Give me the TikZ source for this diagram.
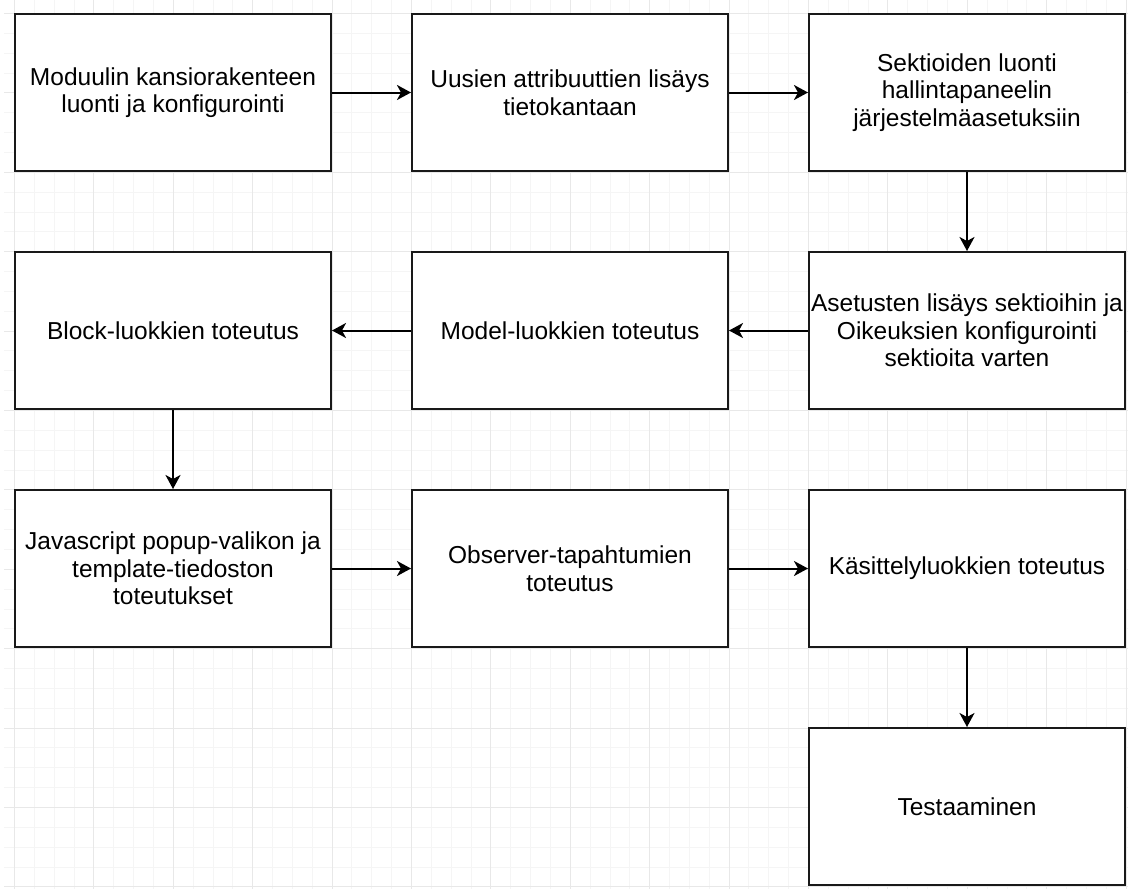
\documentclass[tikz,border=0pt]{standalone}
\usepackage{fontspec}
\setmainfont{Liberation Sans}
\usetikzlibrary{arrows.meta}
\begin{document}
\begin{tikzpicture}[x=1pt,y=-1pt,
  minorgrid/.style={draw=black!4, line width=1pt},
  majorgrid/.style={draw=black!9, line width=1pt},
  box/.style={draw=black!90, line width=2pt, fill=white, minimum width=316pt, minimum height=157pt, align=center, inner sep=0pt, font=\fontsize{24.5}{27.5}\selectfont},
  flow/.style={draw=black, line width=2pt, -{Stealth[length=14pt,width=15pt,inset=4pt]}}]
\useasboundingbox (0,0) rectangle (1128,889);
\fill[white] (0,0) rectangle (1128,889);
% grid (pixel aligned)
\foreach \k in {0,...,56} { \pgfmathsetmacro\gx{round(14+19.85*\k)+0.5} \draw[minorgrid] (\gx,0) -- (\gx,889); }
\foreach \k in {-1,...,44} { \pgfmathsetmacro\gy{round(13+19.85*\k)+0.5} \draw[minorgrid] (4,\gy) -- (1128,\gy); }
\foreach \k in {0,...,14} { \pgfmathsetmacro\gx{round(14+79.4*\k)+0.5} \draw[majorgrid] (\gx,0) -- (\gx,889); }
\foreach \k in {0,...,11} { \pgfmathsetmacro\gy{round(13+79.4*\k)+0.5} \draw[majorgrid] (4,\gy) -- (1128,\gy); }
% boxes
\node[box] (b1) at (173,92.5) {Moduulin kansiorakenteen\\luonti ja konfigurointi};
\node[box] (b2) at (570,92.5) {Uusien attribuuttien lisäys\\tietokantaan};
\node[box] (b3) at (967,92.5) {Sektioiden luonti\\hallintapaneelin\\järjestelmäasetuksiin};
\node[box] (b6) at (967,330.5) {Asetusten lisäys sektioihin ja\\Oikeuksien konfigurointi\\sektioita varten};
\node[box] (b5) at (570,330.5) {Model-luokkien toteutus};
\node[box] (b4) at (173,330.5) {Block-luokkien toteutus};
\node[box] (b7) at (173,568.5) {Javascript popup-valikon ja\\template-tiedoston\\toteutukset};
\node[box] (b8) at (570,568.5) {Observer-tapahtumien\\toteutus};
\node[box] (b9) at (967,568.5) {Käsittelyluokkien toteutus};
\node[box] (b10) at (967,806.5) {Testaaminen};
% connectors
\draw[flow] (b1) -- (b2);
\draw[flow] (b2) -- (b3);
\draw[flow] (b3) -- (b6);
\draw[flow] (b6) -- (b5);
\draw[flow] (b5) -- (b4);
\draw[flow] (b4) -- (b7);
\draw[flow] (b7) -- (b8);
\draw[flow] (b8) -- (b9);
\draw[flow] (b9) -- (b10);
\end{tikzpicture}
\end{document}
